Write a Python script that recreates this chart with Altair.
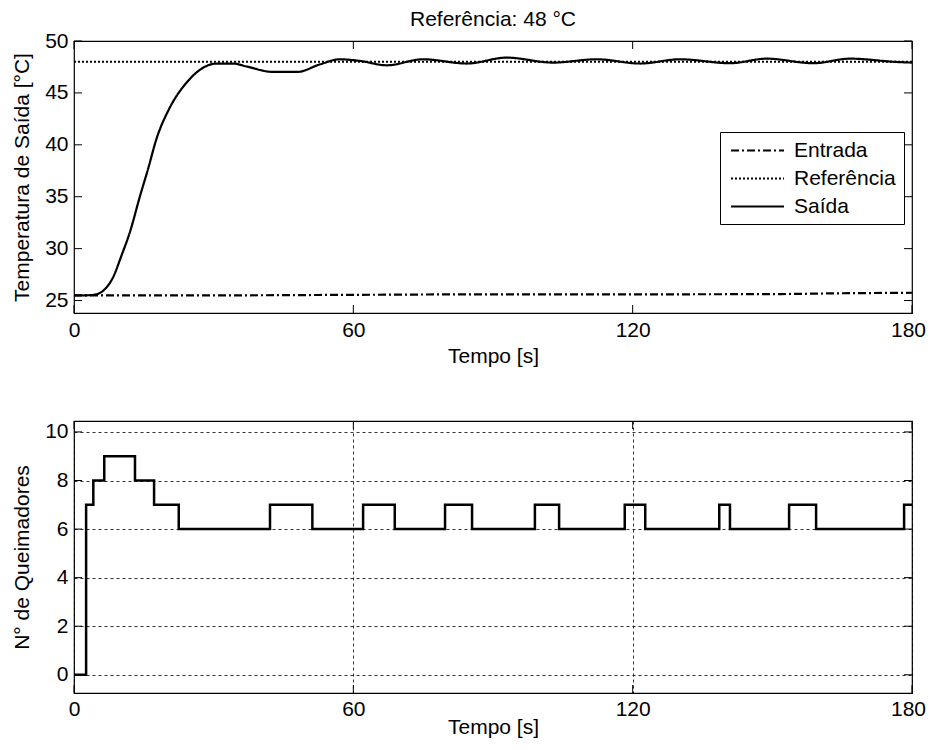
import altair as alt
import pandas as pd

# ---------------- data ----------------
series_names = ["Entrada", "Referência", "Saída"]

t_saida = [0, 2, 4.2, 6.3, 8.4, 10.2, 12, 14.2, 15.9, 17.7, 20.6, 24.2, 27.8, 30.6,
           34.2, 37.1, 42.8, 47.9, 52.9, 57.1, 61.4, 67.2, 75, 84.4, 92.9, 102.9,
           112.3, 121.6, 130.2, 140.9, 148.8, 158.8, 166.7, 176.7, 180]
v_saida = [25.5, 25.5, 25.55, 25.96, 27.25, 29.33, 31.58, 35.1, 37.66, 40.55, 43.6,
           46.0, 47.44, 47.83, 47.83, 47.54, 47.02, 47.02, 47.76, 48.24, 48.08, 47.66,
           48.24, 47.83, 48.4, 47.92, 48.24, 47.83, 48.24, 47.86, 48.3, 47.86, 48.3,
           47.98, 47.92]

t_entrada = [0, 30, 60, 90, 120, 150, 165, 180]
v_entrada = [25.5, 25.5, 25.55, 25.6, 25.6, 25.62, 25.7, 25.75]

t_ref = [0, 180]
v_ref = [48, 48]

t_queim = [0, 2.6, 4.15, 6.5, 13.1, 17.2, 22.5, 42.1, 51.2, 62.1, 68.9, 79.7, 85.5,
           99.0, 104.2, 118.3, 122.7, 138.6, 140.9, 153.6, 159.4, 178.3, 180]
n_queim = [0, 7, 8, 9, 8, 7, 6, 7, 6, 7, 6, 7, 6, 7, 6, 7, 6, 7, 6, 7, 6, 7, 7]

x_ticks = [0, 60, 120, 180]
y_ticks_top = [25, 30, 35, 40, 45, 50]
y_ticks_bot = [0, 2, 4, 6, 8, 10]

# ---------------- layout constants ----------------
W, H = 838, 272
TICK = 8
FONT = "Liberation Sans"
FS = 21

rows = []
for name, ts, vs in [("Entrada", t_entrada, v_entrada),
                     ("Referência", t_ref, v_ref),
                     ("Saída", t_saida, v_saida)]:
    for t, v in zip(ts, vs):
        rows.append({"t": t, "valor": v, "serie": name})
df_top = pd.DataFrame(rows)
df_bot = pd.DataFrame({"t": t_queim, "valor": n_queim})
df_xt = pd.DataFrame({"t": x_ticks})
df_yt_top = pd.DataFrame({"valor": y_ticks_top})
df_yt_bot = pd.DataFrame({"valor": y_ticks_bot})

xs = alt.Scale(domain=[0, 180], nice=False, zero=False)
ys_top = alt.Scale(domain=[23.8, 50], nice=False, zero=False)
ys_bot = alt.Scale(domain=[-0.75, 10.45], nice=False, zero=False)

# keep the last x label ("180") inside the page width
last_label_shift = {"condition": {"test": "datum.value == 180", "value": -4}, "value": 0}

ax_x_top = alt.Axis(values=x_ticks, title="Tempo [s]", grid=False, format="d",
                    labelPadding=6, titlePadding=5, labelOffset=last_label_shift)
ax_y_top = alt.Axis(values=y_ticks_top, title="Temperatura de Saída [°C]", grid=False,
                    format="d", titlePadding=12)
ax_x_bot = alt.Axis(values=x_ticks, title="Tempo [s]", grid=True, format="d",
                    labelPadding=5, titlePadding=-3, labelOffset=last_label_shift)
ax_y_bot = alt.Axis(values=y_ticks_bot, title="N° de Queimadores", grid=True,
                    format="d", titlePadding=12)


def tick_layers(ax_x, ax_y, ys, df_yt):
    common_x = alt.X("t:Q", scale=xs, axis=ax_x)
    common_y = alt.Y("valor:Q", scale=ys, axis=ax_y)
    bottom = alt.Chart(df_xt).mark_rule(color="black", strokeWidth=1).encode(
        x=common_x, y=alt.value(H - TICK), y2=alt.value(H))
    top = alt.Chart(df_xt).mark_rule(color="black", strokeWidth=1).encode(
        x=common_x, y=alt.value(0), y2=alt.value(TICK))
    left = alt.Chart(df_yt).mark_rule(color="black", strokeWidth=1).encode(
        y=common_y, x=alt.value(0), x2=alt.value(TICK))
    right = alt.Chart(df_yt).mark_rule(color="black", strokeWidth=1).encode(
        y=common_y, x=alt.value(W - TICK), x2=alt.value(W))
    return [bottom, top, left, right]


# legend symbol: horizontal line in unit coords (size 400 -> 10 px per unit)
LEG_PATH = "M-0.75,0H4.55"

lines_top = alt.Chart(df_top).mark_line(color="black", strokeWidth=2.2, interpolate="monotone").encode(
    x=alt.X("t:Q", scale=xs, axis=ax_x_top),
    y=alt.Y("valor:Q", scale=ys_top, axis=ax_y_top),
    strokeDash=alt.StrokeDash(
        "serie:N",
        scale=alt.Scale(domain=series_names, range=[[8, 3, 2, 3], [2, 2], [1, 0]]),
        legend=alt.Legend(
            title=None, orient="none", legendX=646, legendY=91,
            fillColor="white", strokeColor="black", padding=7.5,
            symbolType=LEG_PATH, symbolSize=400, symbolStrokeWidth=2,
            symbolStrokeColor="black", symbolFillColor="transparent",
            labelFont=FONT, labelFontSize=FS,
            labelColor="black", rowPadding=7, labelOffset=44.5, cornerRadius=0,
        ),
    ),
)

top_chart = alt.layer(*tick_layers(ax_x_top, ax_y_top, ys_top, df_yt_top), lines_top).properties(
    width=W, height=H,
    title=alt.TitleParams("Referência: 48 °C", font=FONT, fontSize=FS, fontWeight="normal",
                          color="black", anchor="middle", offset=0),
)

line_bot = alt.Chart(df_bot).mark_line(color="black", strokeWidth=2.5, interpolate="step-after").encode(
    x=alt.X("t:Q", scale=xs, axis=ax_x_bot),
    y=alt.Y("valor:Q", scale=ys_bot, axis=ax_y_bot),
)

bot_chart = alt.layer(*tick_layers(ax_x_bot, ax_y_bot, ys_bot, df_yt_bot), line_bot).properties(
    width=W, height=H)

chart = alt.vconcat(top_chart, bot_chart, spacing=108, bounds="flush").properties(
    padding={"left": 3, "top": 0, "right": 0, "bottom": 0},
    background="white",
).configure_axis(
    labelFont=FONT, labelFontSize=FS, titleFont=FONT, titleFontSize=FS,
    titleFontWeight="normal", labelColor="black", titleColor="black",
    domain=False, ticks=False, labelOverlap=False, labelFlush=False,
    labelPadding=6,
    gridDash=[3, 3], gridColor="black", gridWidth=0.8, gridOpacity=1,
).configure_view(
    stroke="black", strokeWidth=1.2
)

chart.save("out.html", embed_options={"renderer": "svg", "actions": False})
